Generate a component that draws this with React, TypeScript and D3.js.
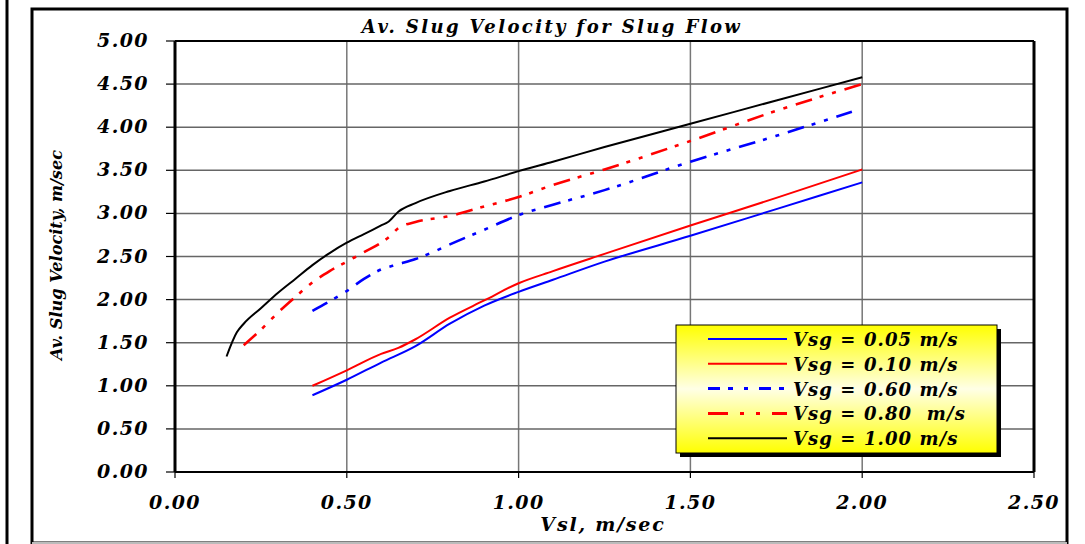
import React from "react";
import * as d3 from "d3";

const title = "Av. Slug Velocity for Slug Flow";
const xTitle = "Vsl, m/sec";
const yTitle = "Av. Slug Velocity, m/sec";
const xTicks = [0, 0.5, 1.0, 1.5, 2.0, 2.5];
const yTicks = [0, 0.5, 1.0, 1.5, 2.0, 2.5, 3.0, 3.5, 4.0, 4.5, 5.0];

const vsg005X = [0.4, 0.5, 0.6, 0.7, 0.8, 0.9, 1.0, 1.1, 1.25, 1.5, 1.75, 2.0];
const vsg005Y = [0.89, 1.07, 1.27, 1.46, 1.72, 1.93, 2.09, 2.23, 2.44, 2.74, 3.05, 3.36];

const vsg010X = [0.4, 0.5, 0.6, 0.65, 0.7, 0.8, 0.9, 1.0, 1.1, 1.25, 1.5, 1.75, 2.0];
const vsg010Y = [1.0, 1.18, 1.37, 1.44, 1.54, 1.79, 1.99, 2.19, 2.33, 2.53, 2.86, 3.18, 3.51];

const vsg060X = [0.4, 0.45, 0.5, 0.55, 0.6, 0.65, 0.7, 0.75, 0.8, 0.9, 1.0, 1.1, 1.25, 1.5, 1.75, 1.97];
const vsg060Y = [1.87, 1.98, 2.1, 2.24, 2.35, 2.41, 2.47, 2.55, 2.64, 2.81, 2.98, 3.1, 3.27, 3.6, 3.9, 4.18];

const vsg080X = [0.2, 0.25, 0.3, 0.35, 0.4, 0.45, 0.5, 0.55, 0.6, 0.63, 0.65, 0.7, 0.8, 0.9, 1.0, 1.1, 1.25, 1.5, 1.75, 2.0];
const vsg080Y = [1.47, 1.65, 1.85, 2.03, 2.2, 2.33, 2.44, 2.55, 2.66, 2.75, 2.83, 2.9, 2.97, 3.08, 3.19, 3.33, 3.51, 3.84, 4.19, 4.5];

const vsg100X = [0.15, 0.18, 0.2, 0.25, 0.3, 0.35, 0.4, 0.45, 0.5, 0.55, 0.6, 0.62, 0.65, 0.7, 0.8, 0.9, 1.0, 1.1, 1.25, 1.5, 1.75, 2.0];
const vsg100Y = [1.34, 1.62, 1.72, 1.9, 2.08, 2.24, 2.4, 2.54, 2.66, 2.76, 2.86, 2.9, 3.02, 3.12, 3.26, 3.37, 3.49, 3.6, 3.77, 4.04, 4.31, 4.58];

const seriesNames = ["Vsg = 0.05 m/s", "Vsg = 0.10 m/s", "Vsg = 0.60 m/s", "Vsg = 0.80  m/s", "Vsg = 1.00 m/s"];

const FONT = "'DejaVu Serif', serif";

export default function App() {
  const left = 175, right = 1034, top = 41, bottom = 472;
  const x = d3.scaleLinear().domain([0, 2.5]).range([left, right]);
  const y = d3.scaleLinear().domain([0, 5]).range([bottom, top]);

  const series = [
    { name: seriesNames[0], xs: vsg005X, ys: vsg005Y, color: "#0000ff", dash: "", w: 2 },
    { name: seriesNames[1], xs: vsg010X, ys: vsg010Y, color: "#ff0000", dash: "", w: 2 },
    { name: seriesNames[2], xs: vsg060X, ys: vsg060Y, color: "#0000ff", dash: "17,8,4,9,4,9", w: 2.6 },
    { name: seriesNames[3], xs: vsg080X, ys: vsg080Y, color: "#ff0000", dash: "17,8,4,9,4,9", w: 2.6 },
    { name: seriesNames[4], xs: vsg100X, ys: vsg100Y, color: "#000000", dash: "", w: 2 },
  ];

  const line = d3
    .line<[number, number]>()
    .x((d) => x(d[0]))
    .y((d) => y(d[1]))
    .curve(d3.curveMonotoneX);

  const fmt = d3.format(".2f");
  const legX = 676, legY = 325, legW = 321, legH = 128;
  const legendDash = ["", "", "12,8,5,11,4,11", "20,12,4,12,4,12", ""];

  return (
    <div style={{ position: "absolute", left: 0, top: 0 }}>
      <svg width={1085} height={544} style={{ display: "block" }}>
        <defs>
          <linearGradient id="legGrad" x1="0" y1="0" x2="0" y2="1">
            <stop offset="0" stopColor="#ffff00" />
            <stop offset="0.5" stopColor="#ffffe6" />
            <stop offset="1" stopColor="#ffff00" />
          </linearGradient>
        </defs>
        <rect x={0} y={0} width={1085} height={544} fill="#fff" />
        {/* outer frames */}
        <line x1={7} y1={0} x2={7} y2={544} stroke="#000" strokeWidth={3} />
        <rect x={32} y={9} width={1035} height={534} fill="none" stroke="#000" strokeWidth={3} />
        <line x1={32} y1={543} x2={1067} y2={543} stroke="#bbb" strokeWidth={2} />

        {/* gridlines */}
        {xTicks.slice(1, -1).map((t) => (
          <line key={"vx" + t} x1={x(t)} x2={x(t)} y1={top} y2={bottom} stroke="#777" strokeWidth={1.5} />
        ))}
        {yTicks.slice(1, -1).map((t) => (
          <line key={"hy" + t} x1={left} x2={right} y1={y(t)} y2={y(t)} stroke="#666" strokeWidth={1.5} />
        ))}

        {/* ticks */}
        {yTicks.map((t) => (
          <line key={"ty" + t} x1={166} x2={left} y1={y(t)} y2={y(t)} stroke="#000" strokeWidth={1.2} />
        ))}
        {xTicks.map((t) => (
          <line key={"tx" + t} x1={x(t)} x2={x(t)} y1={bottom} y2={bottom + 6} stroke="#000" strokeWidth={1.2} />
        ))}

        {/* plot border */}
        <line x1={left} x2={right} y1={top} y2={top} stroke="#000" strokeWidth={2} />
        <line x1={left} x2={right} y1={bottom} y2={bottom} stroke="#000" strokeWidth={2} />
        <line x1={left} x2={left} y1={top} y2={bottom} stroke="#000" strokeWidth={3} />
        <line x1={right} x2={right} y1={top} y2={bottom} stroke="#000" strokeWidth={3} />

        {/* series */}
        {series.map((s) => (
          <path
            key={s.name}
            d={line(s.xs.map((v, i) => [v, s.ys[i]] as [number, number])) || ""}
            fill="none"
            stroke={s.color}
            strokeWidth={s.w}
            strokeDasharray={s.dash || undefined}
          />
        ))}

        {/* tick labels */}
        {yTicks.map((t) => (
          <text key={"ly" + t} x={149} y={y(t) + 6} textAnchor="end" fontFamily={FONT} fontWeight="bold" fontStyle="italic" fontSize={19} letterSpacing={1.4}>
            {fmt(t)}
          </text>
        ))}
        {xTicks.map((t) => (
          <text key={"lx" + t} x={x(t)} y={509} textAnchor="middle" fontFamily={FONT} fontWeight="bold" fontStyle="italic" fontSize={19} letterSpacing={1.4}>
            {fmt(t)}
          </text>
        ))}

        {/* titles */}
        <text x={552} y={33} textAnchor="middle" fontFamily={FONT} fontWeight="bold" fontStyle="italic" fontSize={18} letterSpacing={2.4}>
          {title}
        </text>
        <text x={603} y={531} textAnchor="middle" fontFamily={FONT} fontWeight="bold" fontStyle="italic" fontSize={19} letterSpacing={1.8}>
          {xTitle}
        </text>
        <text
          transform={`translate(62,255) rotate(-90)`}
          textAnchor="middle"
          fontFamily={FONT}
          fontWeight="bold"
          fontStyle="italic"
          fontSize={16}
          textLength={210}
          lengthAdjust="spacingAndGlyphs"
        >
          {yTitle}
        </text>

        {/* legend */}
        <rect x={legX + 4} y={legY + 4} width={legW} height={legH} fill="#000" />
        <rect x={legX} y={legY} width={legW} height={legH} fill="url(#legGrad)" stroke="#000" strokeWidth={1} />
        {series.map((s, i) => {
          const ry = 341 + i * 24.8;
          return (
            <g key={"leg" + i}>
              <line x1={708} x2={787} y1={ry - 2} y2={ry - 2} stroke={s.color} strokeWidth={s.dash ? 3 : 2} strokeDasharray={legendDash[i] || undefined} />
              <text x={793} y={ry + 5} fontFamily={FONT} fontWeight="bold" fontStyle="italic" fontSize={18} letterSpacing={1.1} style={{ whiteSpace: "pre" }}>
                {s.name}
              </text>
            </g>
          );
        })}
      </svg>
    </div>
  );
}
